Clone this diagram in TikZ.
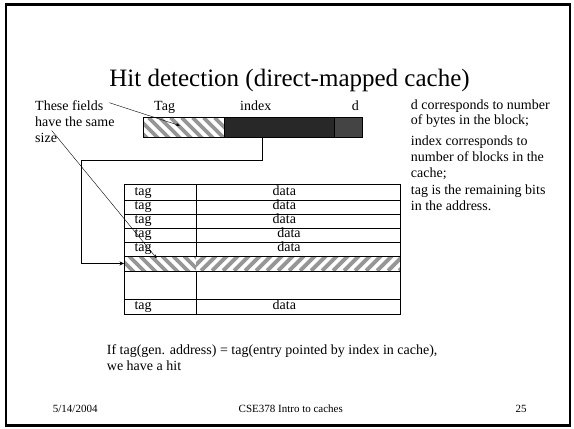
\documentclass[tikz,border=0pt]{standalone}
\usepackage{fontspec}
\setmainfont{Liberation Serif}
\usetikzlibrary{arrows.meta}
\definecolor{idxfill}{RGB}{40,40,40}
\definecolor{dfill}{RGB}{68,68,68}
\definecolor{hatchgray}{RGB}{150,150,150}
\begin{document}
\begin{tikzpicture}[x=1pt,y=-1pt,
  txt/.style={anchor=base west, inner sep=0pt, font=\fontsize{14}{16}\selectfont},
  ctxt/.style={anchor=base, inner sep=0pt, font=\fontsize{14}{16}\selectfont},
  foot/.style={anchor=base, inner sep=0pt, font=\fontsize{11}{13}\selectfont},
  cell/.style={draw, line width=0.8pt, inner sep=0pt, anchor=north west},
  plain/.style={inner sep=0pt, anchor=north west},
  hatch/.style={line width=3.8pt, hatchgray},
  bslash/.style={path picture={\foreach \k in {-3,...,20}{\draw[hatch] ([xshift=\k*11pt-6pt]path picture bounding box.north west) -- ++(30,30);}}},
  fslash/.style={path picture={\foreach \k in {-3,...,20}{\draw[hatch] ([xshift=\k*11pt-6pt]path picture bounding box.south west) -- ++(30,-30);}}},
  conn/.style={line width=0.9pt, -{Stealth[length=4.5pt,width=4pt]}},
  pointer/.style={line width=0.4pt, -{Stealth[length=4pt,width=3pt]}}
]
\useasboundingbox (0,0) rectangle (574,429);
\draw[line width=2.6pt] (6,4.5) rectangle (570,425.5);

% title
\node[anchor=base, inner sep=0pt, font=\fontsize{25}{30}\selectfont] (title) at (289.5,86) {Hit detection (direct-mapped cache)};

% left labels
\node[txt] (l1) at (35,110) {These fields};
\node[txt] (l2) at (35,126) {have the same};
\node[txt] (l3) at (35,142.5) {size};

% field labels
\node[txt] (ltag) at (154,110) {Tag};
\node[txt] (lidx) at (240,110) {index};
\node[txt] (ld) at (351.7,110) {d};

% address bar
\node[cell, fill=white, bslash, minimum width=81pt, minimum height=19.4pt] (tagf) at (143.3,117.3) {};
\node[cell, fill=idxfill, minimum width=109.4pt, minimum height=19.4pt] (idxf) at (224.3,117.3) {};
\node[cell, fill=dfill, minimum width=28.6pt, minimum height=19.4pt] (df) at (333.7,117.3) {};

% table rows
\node[cell, minimum width=72pt, minimum height=15.5pt] (t1) at (124,184) {};
\node[cell, minimum width=204pt, minimum height=15.5pt] (d1) at (196,184) {};
\node[cell, minimum width=72pt, minimum height=14pt] (t2) at (124,199.5) {};
\node[cell, minimum width=204pt, minimum height=14pt] (d2) at (196,199.5) {};
\node[cell, minimum width=72pt, minimum height=14pt] (t3) at (124,213.5) {};
\node[cell, minimum width=204pt, minimum height=14pt] (d3) at (196,213.5) {};
\node[cell, minimum width=72pt, minimum height=14.2pt] (t4) at (124,227.5) {};
\node[cell, minimum width=204pt, minimum height=14.2pt] (d4) at (196,227.5) {};
\node[cell, minimum width=72pt, minimum height=14.3pt] (t5) at (124,241.7) {};
\node[cell, minimum width=204pt, minimum height=14.3pt] (d5) at (196,241.7) {};
\node[plain, bslash, minimum width=72pt, minimum height=14.5pt] (ht) at (124,256) {};
\node[plain, fslash, minimum width=204pt, minimum height=14.5pt] (hd) at (196,256) {};
\draw[line width=0.8pt] (ht.north west) rectangle (hd.south east);
\node[cell, minimum width=72pt, minimum height=28.5pt] (t7) at (124,270.5) {};
\node[cell, minimum width=204pt, minimum height=28.5pt] (d7) at (196,270.5) {};
\node[cell, minimum width=72pt, minimum height=14.5pt] (t8) at (124,299) {};
\node[cell, minimum width=204pt, minimum height=14.5pt] (d8) at (196,299) {};

% table texts
\node[txt] (tt1) at (134.3,195) {tag};
\node[ctxt] (dt1) at (284.3,195) {data};
\node[txt] (tt2) at (134.3,209) {tag};
\node[ctxt] (dt2) at (284.3,209) {data};
\node[txt] (tt3) at (134.3,223) {tag};
\node[ctxt] (dt3) at (284.3,223) {data};
\node[txt] (tt4) at (134.3,237.2) {tag};
\node[ctxt] (dt4) at (289,237.2) {data};
\node[txt] (tt5) at (134.3,251.5) {tag};
\node[ctxt] (dt5) at (289,251.5) {data};
\node[txt] (tt8) at (134.3,309) {tag};
\node[ctxt] (dt8) at (284.3,309) {data};

% connector index -> row
\coordinate (c1) at (262.3,136.7);
\coordinate (c2) at (81,160);
\draw[conn] (c1) |- (c2) |- (ht.west);

% pointers from label
\coordinate (s1) at (109.3,102.7);
\coordinate (e1) at (180,125.7);
\draw[pointer] (s1) -- (e1);
\coordinate (s2) at (51.7,130.5);
\coordinate (e2) at (156.7,258.3);
\draw[pointer] (s2) -- (e2);

% right text
\node[txt] (r1) at (410.7,109) {d corresponds to number};
\node[txt] (r2) at (410.7,124.5) {of bytes in the block;};
\node[txt] (r3) at (410.7,145.7) {index corresponds to};
\node[txt] (r4) at (410.7,161.5) {number of blocks in the};
\node[txt] (r5) at (410.7,177) {cache;};
\node[txt] (r6) at (410.7,194.3) {tag is the remaining bits};
\node[txt] (r7) at (410.7,210) {in the address.};

% bottom text
\node[txt] (b1) at (106.7,354) {If tag(gen. address) = tag(entry pointed by index in cache),};
\node[txt] (b2) at (106.7,370.5) {we have a hit};

% footer
\node[foot, anchor=base west] (f1) at (52.7,412) {5/14/2004};
\node[foot] (f2) at (290.8,412) {CSE378 Intro to caches};
\node[foot] (f3) at (521,412) {25};
\end{tikzpicture}
\end{document}
